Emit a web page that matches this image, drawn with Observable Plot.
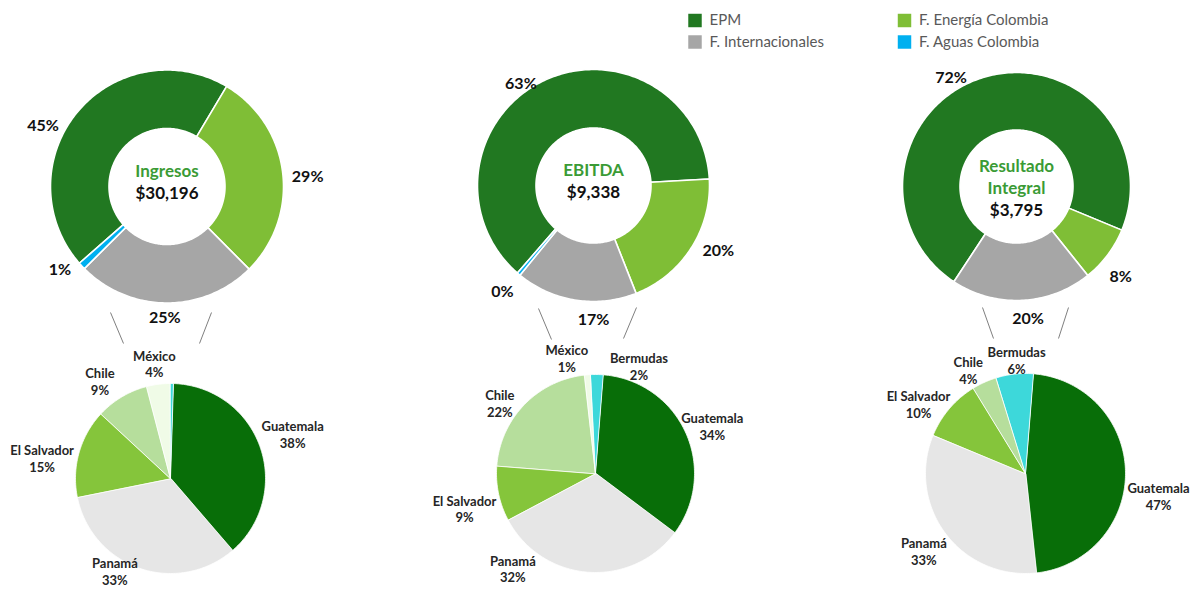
<!DOCTYPE html>
<html>
<head>
<meta charset="utf-8">
<script src="https://cdn.jsdelivr.net/npm/d3@7"></script>
<script src="https://cdn.jsdelivr.net/npm/@observablehq/plot@0.6"></script>
<style>
  html, body { margin: 0; padding: 0; background: #fff; }
  #chart { width: 1192px; height: 589px; }
</style>
</head>
<body>
<div id="chart"></div>
<script>
// ---------- DATA ----------
const donutCategories = ["EPM", "F. Energía Colombia", "F. Internacionales", "F. Aguas Colombia"];
const donutTitles = [["Ingresos"], ["EBITDA"], ["Resultado", "Integral"]];
const donutTotals = ["$30,196", "$9,338", "$3,795"];
const ingresosShare = [45, 29, 25, 1];
const ebitdaShare = [63, 20, 17, 0.45];
const resultadoShare = [72, 8, 20, 0];
const ingresosLabels = ["45%", "29%", "25%", "1%"];
const ebitdaLabels = ["63%", "20%", "17%", "0%"];
const resultadoLabels = ["72%", "8%", "20%", ""];

const countryCategories = ["Guatemala", "Panamá", "El Salvador", "Chile", "México", "Bermudas"];
const ingresosCountry = [38, 33, 15, 9, 4, 0.5];
const ebitdaCountry = [34, 32, 9, 22, 1, 2];
const resultadoCountry = [47, 33, 10, 4, 0, 6];
const ingresosCountryLabels = ["38%", "33%", "15%", "9%", "4%", ""];
const ebitdaCountryLabels = ["34%", "32%", "9%", "22%", "1%", "2%"];
const resultadoCountryLabels = ["47%", "33%", "10%", "4%", "", "6%"];

// ---------- STYLE / LAYOUT ----------
const donutColors = ["#217821", "#7fbe36", "#a6a6a6", "#00b0f0"];
const countryColors = ["#086e08", "#e6e6e6", "#85c53b", "#b6de9c", "#f0fbe7", "#3dd8da"];

const donutGeo = [
  {cx: 166.5, cy: 186, r: 116.5, ri: 58, start: 228.8},
  {cx: 593, cy: 185, r: 116, ri: 57.5, start: 221},
  {cx: 1016, cy: 186, r: 114, ri: 56.5, start: 213.3}
];
const pieGeo = [
  {cx: 170, cy: 478, r: 95, ri: 0, start: 1.8},
  {cx: 595, cy: 473, r: 99, ri: 0, start: 4.5},
  {cx: 1025, cy: 473, r: 100, ri: 0, start: 4.6}
];
// label placement (angle clockwise from north, distance from centre)
const donutLabelPolar = [
  [[296, 138], [86, 141], [181, 131], [232, 136]],
  [[324.5, 125], [117.8, 141], [180, 134], [220.6, 140]],
  [[329, 127], [131, 138], [175, 132.5], [0, 0]]
];
const pieLabelPolar = [
  [[70, 130], [211, 108], [279, 130], [324, 120], [352, 116], [0, 0]],
  [[68, 126], [221, 126], [255, 135.6], [306.5, 119], [346, 118.6], [22, 116]],
  [[99.8, 135], [232.6, 128], [303, 127.6], [331, 118], [0, 0], [355.5, 114]]
];
// connector offsets relative to donut centre: [x1, y1, x2, y2]
const connectorOffsets = [
  [[-56.5, 126, -43.5, 157], [44.5, 126, 32.5, 157]],
  [[-55, 123, -42, 154], [43, 122, 30, 153]],
  [[-34, 121, -23, 152], [52, 121, 42, 152]]
];
const legendPos = [[694.5, 20], [694.5, 41.5], [904, 20], [904, 41.5]];
const legendOrder = ["EPM", "F. Internacionales", "F. Energía Colombia", "F. Aguas Colombia"];

// ---------- BUILD ----------
function polar(g, r, deg) {
  const a = deg * Math.PI / 180;
  return {x: g.cx + r * Math.sin(a), y: g.cy - r * Math.cos(a)};
}
function slicePoints(values, cats, g, id) {
  const total = d3.sum(values);
  let a = g.start;
  const pts = [];
  values.forEach((v, i) => {
    const span = v / total * 360;
    if (v > 0) {
      const a0 = a, a1 = a + span;
      const n = Math.max(2, Math.ceil(span));
      for (let k = 0; k <= n; k++) pts.push({key: id + "-" + i, cat: cats[i], ...polar(g, g.r, a0 + (a1 - a0) * k / n)});
      if (g.ri > 0) {
        for (let k = n; k >= 0; k--) pts.push({key: id + "-" + i, cat: cats[i], ...polar(g, g.ri, a0 + (a1 - a0) * k / n)});
      } else {
        pts.push({key: id + "-" + i, cat: cats[i], x: g.cx, y: g.cy});
      }
    }
    a += span;
  });
  return pts;
}

const donutValues = [ingresosShare, ebitdaShare, resultadoShare];
const donutLabelTexts = [ingresosLabels, ebitdaLabels, resultadoLabels];
const pieValues = [ingresosCountry, ebitdaCountry, resultadoCountry];
const pieLabelTexts = [ingresosCountryLabels, ebitdaCountryLabels, resultadoCountryLabels];

const donutPts = donutValues.flatMap((vals, j) => slicePoints(vals, donutCategories, donutGeo[j], "d" + j));
const piePts = pieValues.flatMap((vals, j) => slicePoints(vals, countryCategories, pieGeo[j], "p" + j));

const donutLabelData = [];
donutLabelTexts.forEach((labs, j) => labs.forEach((t, i) => {
  if (!t) return;
  const [ang, dist] = donutLabelPolar[j][i];
  donutLabelData.push({text: t, ...polar(donutGeo[j], dist, ang)});
}));
const pieLabelData = [];
pieLabelTexts.forEach((labs, j) => labs.forEach((t, i) => {
  if (!t) return;
  const [ang, dist] = pieLabelPolar[j][i];
  pieLabelData.push({text: countryCategories[i] + "\n" + t, ...polar(pieGeo[j], dist, ang)});
}));

const titleData = [];
const totalData = [];
donutTitles.forEach((lines, j) => {
  const g = donutGeo[j];
  const yTotal = g.cy + 7 + (lines.length - 1) * 17;
  totalData.push({text: donutTotals[j], x: g.cx, y: yTotal});
  lines.forEach((l, k) => titleData.push({text: l, x: g.cx, y: yTotal - 22 * (lines.length - k)}));
});

const connectorData = connectorOffsets.flatMap((pair, j) => pair.map(o => ({
  x1: donutGeo[j].cx + o[0], y1: donutGeo[j].cy + o[1], x2: donutGeo[j].cx + o[2], y2: donutGeo[j].cy + o[3]
})));

const legendData = legendOrder.map((c, i) => ({cat: c, x: legendPos[i][0], y: legendPos[i][1]}));

const chart = Plot.plot({
  width: 1192,
  height: 589,
  margin: 0,
  x: {domain: [0, 1192], range: [0, 1192], axis: null},
  y: {domain: [0, 589], range: [0, 589], axis: null},
  color: {domain: donutCategories.concat(countryCategories), range: donutColors.concat(countryColors)},
  style: {fontFamily: "Lato, 'Open Sans', sans-serif", background: "white", overflow: "visible"},
  marks: [
    Plot.line(donutPts, {x: "x", y: "y", z: "key", fill: "cat", stroke: "white", strokeWidth: 1.6, curve: "linear-closed"}),
    Plot.line(piePts, {x: "x", y: "y", z: "key", fill: "cat", stroke: "white", strokeWidth: 0.8, curve: "linear-closed"}),
    Plot.link(connectorData, {x1: "x1", y1: "y1", x2: "x2", y2: "y2", stroke: "#7f7f7f", strokeWidth: 1}),
    Plot.text(donutLabelData, {x: "x", y: "y", text: "text", fontSize: 16, fontWeight: "bold", fill: "#111"}),
    Plot.text(pieLabelData, {x: "x", y: "y", text: "text", fontSize: 13, fontWeight: "bold", fill: "#262626", lineHeight: 1.3}),
    Plot.text(titleData, {x: "x", y: "y", text: "text", fontSize: 17, fontWeight: "bold", fill: "#3a9b35"}),
    Plot.text(totalData, {x: "x", y: "y", text: "text", fontSize: 17, fontWeight: "bold", fill: "#111"}),
    Plot.dot(legendData, {x: "x", y: "y", fill: "cat", symbol: "square", r: 7.6}),
    Plot.text(legendData, {x: d => d.x + 14.5, y: "y", text: "cat", textAnchor: "start", fontSize: 15, fill: "#595959"})
  ]
});
document.getElementById("chart").appendChild(chart);
</script>
</body>
</html>
